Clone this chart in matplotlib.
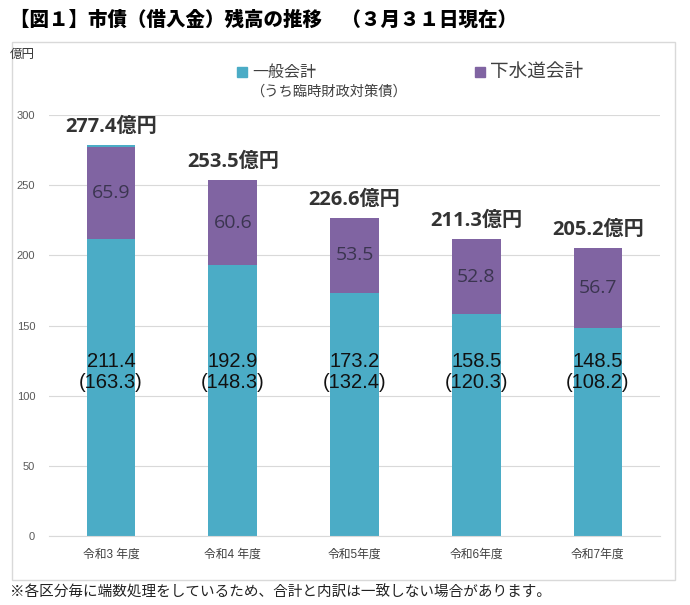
import numpy as np
import matplotlib.pyplot as plt
from matplotlib.patches import Rectangle

plt.rcParams['font.family'] = ['Liberation Sans', 'Noto Sans CJK JP']

years = ['令和3 年度', '令和4 年度', '令和5年度', '令和6年度', '令和7年度']
general = [211.4, 192.9, 173.2, 158.5, 148.5]   # 一般会計
rinzai = [163.3, 148.3, 132.4, 120.3, 108.2]    # うち臨時財政対策債
sewer = [65.9, 60.6, 53.5, 52.8, 56.7]          # 下水道会計
cap = [1.5, 0, 0, 0, 0]                         # thin sliver on top of first bar
totals = [277.4, 253.5, 226.6, 211.3, 205.2]

cyan = '#4BACC6'
purple = '#8064A2'

fig = plt.figure(figsize=(6.9, 6.05), dpi=100)
ax = fig.add_axes([49 / 690, 69 / 605, 611 / 690, 421 / 605])

# outer frame
fig.patches.append(Rectangle((12 / 690, 25 / 605), 663 / 690, 538 / 605,
                             transform=fig.transFigure, fill=False,
                             edgecolor='#D9D9D9', linewidth=1.0))

x = np.arange(len(years))
w = 0.4
ax.bar(x, general, w, color=cyan, zorder=2)
ax.bar(x, sewer, w, bottom=general, color=purple, zorder=2)
ax.bar(x, cap, w, bottom=np.array(general) + np.array(sewer), color=cyan, zorder=2)

for i in range(len(years)):
    ax.text(x[i], 124.7, f'{general[i]:.1f}', ha='center', va='center',
            fontsize=14.5, color='#111111', zorder=3)
    ax.text(x[i], 109.5, f'({rinzai[i]:.1f})', ha='center', va='center',
            fontsize=14.5, color='#111111', zorder=3)
    ax.text(x[i], general[i] + sewer[i] / 2, f'{sewer[i]:.1f}', ha='center', va='center',
            fontsize=14, color='#3B3550', family=['Open Sans', 'Noto Sans CJK JP'], zorder=3)
    top = general[i] + sewer[i] + cap[i]
    ax.text(x[i], top + 13, f'{totals[i]:.1f}億円', ha='center', va='center',
            fontsize=14.5, fontweight='bold', color='#333333',
            family=['Open Sans', 'Noto Sans CJK JP'], zorder=3)

ax.set_xlim(-0.51, 4.51)
ax.set_ylim(0, 300)
ax.set_yticks(range(0, 301, 50))
ax.yaxis.grid(True, color='#D9D9D9', linewidth=0.8, zorder=0)
ax.set_axisbelow(True)
for s in ['top', 'right', 'left']:
    ax.spines[s].set_visible(False)
ax.spines['bottom'].set_color('#D9D9D9')
ax.tick_params(axis='y', length=0, pad=10, labelsize=8, labelcolor='#595959')
ax.tick_params(axis='x', length=0, pad=9, labelsize=8.5, labelcolor='#404040')
ax.set_xticks(x)
ax.set_xticklabels(years)

fig.text(10 / 690, 1 - 20 / 605, '【図１】市債（借入金）残高の推移　（３月３１日現在）',
         fontsize=14, fontweight='heavy', va='center', ha='left',
         family=['Noto Sans CJK JP'])
fig.text(10 / 690, 1 - 55 / 605, '億円', fontsize=9, va='center', ha='left', color='#333333')

# legend
fig.patches.append(Rectangle((237 / 690, 1 - 77 / 605), 10 / 690, 10 / 605,
                             transform=fig.transFigure, color=cyan))
fig.text(252 / 690, 1 - 72 / 605, '一般会計', fontsize=11.5, va='center', ha='left', color='#404040')
fig.text(250 / 690, 1 - 92 / 605, '（うち臨時財政対策債）', fontsize=10.3, va='center', ha='left',
         color='#404040')
fig.patches.append(Rectangle((475 / 690, 1 - 77 / 605), 10 / 690, 10 / 605,
                             transform=fig.transFigure, color=purple))
fig.text(490 / 690, 1 - 72 / 605, '下水道会計', fontsize=13.4, va='center', ha='left', color='#404040')

fig.text(10 / 690, 1 - 593 / 605, '※各区分毎に端数処理をしているため、合計と内訳は一致しない場合があります。',
         fontsize=10.5, va='center', ha='left', color='#222222')

fig.savefig('out.png', dpi=100)
